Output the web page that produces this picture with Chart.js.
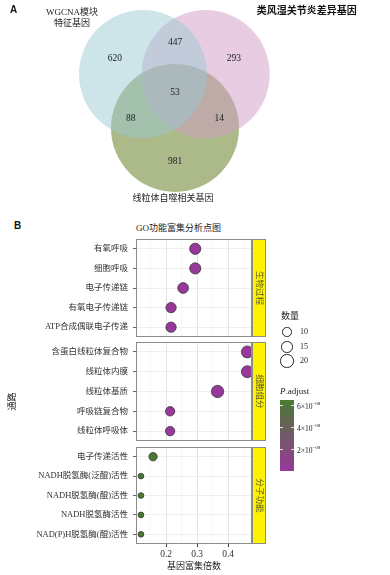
<!DOCTYPE html>
<html>
<head>
<meta charset="utf-8">
<script src="https://cdn.jsdelivr.net/npm/chart.js@4.4.1/dist/chart.umd.min.js"></script>
<style>
  body { margin: 0; background: #fff; }
  #wrap { position: relative; width: 390px; height: 575px; overflow: hidden;
          font-family: "Liberation Serif", "Noto Sans CJK SC", serif; color: #222; }
  canvas { position: absolute; left: 0; }
  .t { position: absolute; white-space: nowrap; line-height: 1; }
  .tag { font-family: "Liberation Sans", Arial, sans-serif; font-weight: bold; font-size: 10px; color: #111; }
  .ring { position: absolute; border: 1px solid #222; border-radius: 50%; box-sizing: border-box; background: #fff; }
  .cb-tick { position: absolute; width: 3px; height: 1px; background: rgba(255,255,255,0.8); }
  sup { font-size: 5px; vertical-align: 4px; }
</style>
</head>
<body>
<div id="wrap">
  <canvas id="venn" style="top:0" width="390" height="210"></canvas>
  <canvas id="bp" style="top:239px" width="390" height="98"></canvas>
  <canvas id="cc" style="top:342px" width="390" height="99"></canvas>
  <canvas id="mf" style="top:447px" width="390" height="128"></canvas>

  <div class="t tag" style="left:10px;top:5px">A</div>
  <div class="t tag" style="left:14px;top:221px">B</div>
  <div class="t" style="left:136px;top:224px;font-size:9px">GO功能富集分析点图</div>
  <div class="t" style="left:3px;top:397px;font-size:9px;transform:rotate(-90deg);transform-origin:center">通路</div>
  <div id="legend"></div>
</div>

<script>
// ---- Venn data ----
const vennSets = ['WGCNA模块\n特征基因', '类风湿关节炎差异基因', '线粒体自噬相关基因'];
const vennRegions = ['A', 'A∩B', 'B', 'A∩B∩C', 'A∩C', 'B∩C', 'C'];
const vennCounts = [620, 447, 293, 53, 88, 14, 981];

// ---- GO dot plot data ----
const bpTerms = ['有氧呼吸', '细胞呼吸', '电子传递链', '有氧电子传递链', 'ATP合成偶联电子传递'];
const bpFold = [0.294, 0.294, 0.255, 0.216, 0.216];
const bpCount = [14, 14, 13, 12, 12];
const bpPadj = [1.1e-11, 1.2e-11, 3.0e-11, 8.5e-11, 8.5e-11];

const ccTerms = ['含蛋白线粒体复合物', '线粒体内膜', '线粒体基质', '呼吸链复合物', '线粒体呼吸体'];
const ccFold = [0.462, 0.462, 0.366, 0.213, 0.213];
const ccCount = [16, 16, 17, 10, 10];
const ccPadj = [2.0e-16, 2.0e-16, 4.1e-12, 9.0e-11, 9.0e-11];

const mfTerms = ['电子传递活性', 'NADH脱氢酶(泛醌)活性', 'NADH脱氢酶(醌)活性', 'NADH脱氢酶活性', 'NAD(P)H脱氢酶(醌)活性'];
const mfFold = [0.158, 0.119, 0.119, 0.119, 0.119];
const mfCount = [8, 4, 4, 4, 4];
const mfPadj = [6.3e-8, 6.45e-8, 6.45e-8, 6.45e-8, 6.45e-8];

const stripLabels = ['生物过程', '细胞组分', '分子功能'];
const xTickLabels = [0.2, 0.3, 0.4];
const xGridValues = [0.15, 0.2, 0.25, 0.3, 0.35, 0.4, 0.45];
const sizeBreaks = [10, 15, 20];
const padjBreaks = [2e-8, 4e-8, 6e-8];

// ---- layout / style ----
const FONT = '"Liberation Serif", "Noto Sans CJK SC", serif';
const VENN_X = [-175 / 64, 215 / 64], VENN_Y = [-109 / 64, 101 / 64];
const VENN_UNIT = 390 / (VENN_X[1] - VENN_X[0]);   // pixels per circle radius
const vennCenters = [[-0.5, 0.42], [0.48, 0.42], [0, -0.42]];
const vennFill = ['rgba(155,201,211,0.5)', 'rgba(209,155,197,0.5)', 'rgba(87,117,17,0.5)'];
const vennCountPos = [[-0.94, 0.67], [0, 0.92], [0.92, 0.67], [0, 0.14], [-0.69, -0.27], [0.69, -0.27], [0, -0.94]];
const vennSetPos = [[-1.61, 1.29], [2.06, 1.42], [-0.03, -1.53]];
const LOW = [152, 56, 154], HIGH = [74, 122, 50];
const P_MAX = 6.45e-8;

function colorOf(p) {
  const t = Math.min(1, Math.max(0, p / P_MAX));
  const c = LOW.map((v, i) => Math.round(v + (HIGH[i] - v) * t));
  return `rgb(${c.join(',')})`;
}
function sizeOf(n) {
  return Math.sqrt(Math.max(1, 22 + 2.3 * (n - 10)));
}

// ---- Venn ----
const vennText = {
  id: 'vennText',
  afterDatasetsDraw(chart) {
    const { ctx, scales: { x, y } } = chart;
    ctx.save();
    ctx.textAlign = 'center';
    ctx.textBaseline = 'middle';
    ctx.fillStyle = '#222';
    ctx.font = `9.5px ${FONT}`;
    vennCounts.forEach((v, i) => {
      ctx.fillText(String(v), x.getPixelForValue(vennCountPos[i][0]), y.getPixelForValue(vennCountPos[i][1]));
    });
    vennSets.forEach((s, i) => {
      const lines = s.split('\n');
      ctx.font = i === 1 ? `bold 10px "Noto Sans CJK SC", sans-serif` : `9px ${FONT}`;
      ctx.fillStyle = i === 1 ? '#111' : '#222';
      lines.forEach((ln, k) => {
        ctx.fillText(ln, x.getPixelForValue(vennSetPos[i][0]), y.getPixelForValue(vennSetPos[i][1]) + (k - (lines.length - 1) / 2) * 11);
      });
    });
    ctx.restore();
  }
};

new Chart(document.getElementById('venn'), {
  type: 'bubble',
  data: {
    datasets: vennSets.map((s, i) => ({
      label: s,
      data: [{ x: vennCenters[i][0], y: vennCenters[i][1], r: VENN_UNIT }],
      backgroundColor: vennFill[i],
      borderWidth: 0,
      clip: false
    }))
  },
  options: {
    responsive: false, animation: false, events: [],
    layout: { padding: 0, autoPadding: false },
    scales: {
      x: { type: 'linear', display: false, min: VENN_X[0], max: VENN_X[1] },
      y: { type: 'linear', display: false, min: VENN_Y[0], max: VENN_Y[1] }
    },
    plugins: { legend: { display: false }, tooltip: { enabled: false } }
  },
  plugins: [vennText]
});

// ---- GO panels ----
const panelDeco = {
  id: 'panelDeco',
  afterDatasetsDraw(chart, args, opts) {
    const { ctx, chartArea: ca } = chart;
    ctx.save();
    ctx.strokeStyle = '#8c8c8c';
    ctx.lineWidth = 1;
    ctx.strokeRect(ca.left + 0.5, ca.top + 0.5, ca.width - 1, ca.height - 1);
    ctx.fillStyle = '#fff200';
    ctx.fillRect(ca.right, ca.top, 14, ca.height);
    ctx.strokeRect(ca.right + 0.5, ca.top + 0.5, 13, ca.height - 1);
    ctx.translate(ca.right + 7, (ca.top + ca.bottom) / 2);
    ctx.rotate(Math.PI / 2);
    ctx.fillStyle = '#5a5a30';
    ctx.font = `8.5px ${FONT}`;
    ctx.textAlign = 'center';
    ctx.textBaseline = 'middle';
    ctx.fillText(opts.label, 0, 0);
    ctx.restore();
  }
};

function makePanel(id, terms, fold, count, padj, strip, showX) {
  const isMajor = v => xTickLabels.some(t => Math.abs(t - v) < 1e-9);
  new Chart(document.getElementById(id), {
    type: 'scatter',
    data: {
      datasets: [{
        data: terms.map((t, i) => ({ x: fold[i], y: t })),
        pointRadius: ctx => sizeOf(count[ctx.dataIndex]),
        backgroundColor: ctx => colorOf(padj[ctx.dataIndex]),
        borderColor: '#2a2a2a',
        borderWidth: 0.7,
        clip: false
      }]
    },
    options: {
      responsive: false, animation: false, events: [],
      layout: { padding: { left: 0, right: 138, top: 0, bottom: 0 }, autoPadding: false },
      scales: {
        x: {
          type: 'linear', min: 0.103, max: 0.477,
          afterBuildTicks: s => { s.ticks = xGridValues.map(v => ({ value: v })); },
          afterFit: s => { s.height = showX ? 31 : 0; s.paddingLeft = 0; s.paddingRight = 0; },
          border: { display: false },
          grid: {
            color: c => isMajor(c.tick.value) ? '#e4e4e4' : '#f2f2f2',
            lineWidth: c => isMajor(c.tick.value) ? 1 : 0.6,
            drawTicks: showX, tickLength: 3,
            tickColor: c => isMajor(c.tick.value) ? '#444' : 'rgba(0,0,0,0)'
          },
          ticks: {
            display: showX, autoSkip: false, maxRotation: 0, padding: 2,
            color: '#333', font: { family: FONT, size: 9.5 },
            callback: v => isMajor(v) ? v.toFixed(1) : ''
          },
          title: {
            display: showX, text: '基因富集倍数', color: '#222',
            font: { family: FONT, size: 9 }, padding: { top: 0, bottom: 3 }
          }
        },
        y: {
          type: 'category', labels: terms, offset: true,
          afterFit: s => { s.width = 136; s.paddingTop = 0; s.paddingBottom = 0; },
          border: { display: false },
          grid: { offset: false, color: '#ebebeb', lineWidth: 0.8, tickLength: 3, tickColor: '#444' },
          ticks: { autoSkip: false, padding: 5, color: '#333', font: { family: FONT, size: 8.5 } }
        }
      },
      plugins: { legend: { display: false }, tooltip: { enabled: false }, panelDeco: { label: strip } }
    },
    plugins: [panelDeco]
  });
}

makePanel('bp', bpTerms, bpFold, bpCount, bpPadj, stripLabels[0], false);
makePanel('cc', ccTerms, ccFold, ccCount, ccPadj, stripLabels[1], false);
makePanel('mf', mfTerms, mfFold, mfCount, mfPadj, stripLabels[2], true);

// ---- legends (size + colour bar) ----
(function buildLegend() {
  const lg = document.getElementById('legend');
  let html = '<div class="t" style="left:281px;top:312px;font-size:9px">数量</div>';
  const rowY = [332, 347, 361];
  sizeBreaks.forEach((b, i) => {
    const r = sizeOf(b);
    html += `<div class="ring" style="left:${287 - r}px;top:${rowY[i] - r}px;width:${2 * r}px;height:${2 * r}px"></div>`;
    html += `<div class="t" style="left:300px;top:${rowY[i] - 4}px;font-size:8px">${b}</div>`;
  });
  const top = 400, h = 71, left = 280, w = 14;
  html += '<div class="t" style="left:280px;top:387px;font-size:9px"><i>P</i>.adjust</div>';
  html += `<div style="position:absolute;left:${left}px;top:${top}px;width:${w}px;height:${h}px;` +
          `background:linear-gradient(to top, ${colorOf(0)}, ${colorOf(P_MAX / 2)}, ${colorOf(P_MAX)})"></div>`;
  padjBreaks.forEach(p => {
    const y = top + h - (p / P_MAX) * h;
    const m = Math.round(p / 1e-8);
    html += `<div class="cb-tick" style="left:${left}px;top:${y}px"></div>`;
    html += `<div class="cb-tick" style="left:${left + w - 3}px;top:${y}px"></div>`;
    html += `<div class="t" style="left:297px;top:${y - 4}px;font-size:7.5px">${m}×10<sup>−08</sup></div>`;
  });
  lg.innerHTML = html;
})();
</script>
</body>
</html>
